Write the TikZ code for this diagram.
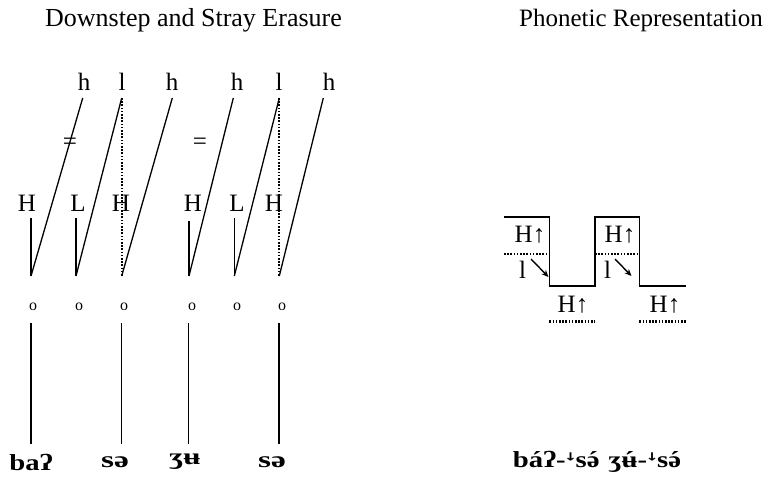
\documentclass[tikz,border=0pt]{standalone}
\usepackage{fontspec}
\setmainfont{Liberation Serif}
\newfontfamily\dvfont{DejaVu Sans}
\usetikzlibrary{arrows.meta}
\newcommand\acu[1]{\ooalign{#1\cr\hidewidth´\hidewidth\cr}}
\newcommand\dstep{{\dvfont\fontsize{20}{24}\selectfont ꜜ}}
\begin{document}
\begin{tikzpicture}[x=1pt,y=-1pt,
  ttl/.style={inner sep=0pt, font=\fontsize{25}{29}\selectfont},
  lbl/.style={inner sep=0pt, font=\fontsize{25}{29}\selectfont},
  sml/.style={inner sep=0pt, font=\fontsize{16}{18}\selectfont},
  word/.style={inner sep=0pt, font=\fontsize{23}{27}\selectfont\bfseries},
  ln/.style={line width=1.3pt},
  dotln/.style={line width=2.2pt, dash pattern=on 1.6pt off 1.6pt},
  arr/.style={line width=1.4pt, -{Stealth[length=7pt,width=6pt]}}
]
\useasboundingbox (0,0) rectangle (766,477);
% titles
\node[ttl, font=\fontsize{26}{30}\selectfont] (t1) at (193.5,20) {Downstep and Stray Erasure};
\node[ttl, anchor=east] (t2) at (763,20) {Phonetic Representation};
% top tier
\node[lbl] (h1) at (84,82) {h};
\node[lbl] (l1) at (122,82) {l};
\node[lbl] (h2) at (172,82) {h};
\node[lbl] (h3) at (237,82) {h};
\node[lbl] (l2) at (279,82) {l};
\node[lbl] (h4) at (329,82) {h};
\coordinate (a1) at (82.7,98);
\coordinate (a2) at (121.7,98);
\coordinate (a3) at (172.3,98);
\coordinate (a4) at (233.3,98);
\coordinate (a5) at (279.3,98);
\coordinate (a6) at (323.3,98);
% lower tier
\node[lbl] (H1) at (27,203) {H};
\node[lbl] (L1) at (78,203) {L};
\node[lbl] (H2) at (121,203) {H};
\node[lbl] (H3) at (193,203) {H};
\node[lbl] (L2) at (237,203) {L};
\node[lbl] (H4) at (274,203) {H};
\coordinate (b1) at (31,276);
\coordinate (b2) at (76,276);
\coordinate (b3) at (121.7,276);
\coordinate (b4) at (189,276);
\coordinate (b5) at (234.3,276);
\coordinate (b6) at (279.3,276);
\coordinate (c1) at (31,218);
\coordinate (c2) at (76,218);
\coordinate (c4) at (189,221);
\coordinate (c5) at (234.3,218);
% equal signs
\node[lbl] (ne) at (70,143.5) {=};
\node[lbl] (eq) at (200,143.5) {=};
% association lines
\draw[ln] (a1) -- (b1);
\draw[ln] (a2) -- (b2);
\draw[ln] (a3) -- (b3);
\draw[ln] (a4) -- (b4);
\draw[ln] (a5) -- (b5);
\draw[ln] (a6) -- (b6);
\draw[dotln] (a2) -- (b3);
\draw[dotln] (a5) -- (b6);
\draw[ln] (c1) -- (b1);
\draw[ln] (c2) -- (b2);
\draw[ln] (c4) -- (b4);
\draw[ln] (c5) -- (b5);
% syllables
\node[sml] (o1) at (33,307) {o};
\node[sml] (o2) at (79,307) {o};
\node[sml] (o3) at (124,307) {o};
\node[sml] (o4) at (192,307) {o};
\node[sml] (o5) at (237,307) {o};
\node[sml] (o6) at (282,307) {o};
% words
\node[word] (w1) at (31,462) {\scalebox{1.25}[1]{baʔ}};
\node[word] (w2) at (115,462) {\scalebox{1.45}[1]{sə}};
\node[word] (w3) at (185,462) {\scalebox{1.35}[1]{ʒʉ}};
\node[word] (w4) at (272,462) {\scalebox{1.45}[1]{sə}};
\coordinate (d1) at (31,323);
\coordinate (d2) at (121.5,323);
\coordinate (d3) at (188.5,323);
\coordinate (d4) at (279,323);
\coordinate (e1) at (31,444);
\coordinate (e2) at (121.5,444);
\coordinate (e3) at (188.5,444);
\coordinate (e4) at (279,444);
\draw[ln] (d1) -- (e1);
\draw[ln] (d2) -- (e2);
\draw[ln] (d3) -- (e3);
\draw[ln] (d4) -- (e4);
% phonetic representation
\coordinate (p1) at (504,217);
\coordinate (p2) at (549.3,217);
\coordinate (p3) at (549.3,286);
\coordinate (p4) at (595,286);
\coordinate (p5) at (595,217);
\coordinate (p6) at (639.3,217);
\coordinate (p7) at (639.3,286);
\coordinate (p8) at (685.7,286);
\draw[ln] (p1) -- (p2) -- (p3) -- (p4) -- (p5) -- (p6) -- (p7) -- (p8);
\coordinate (q1) at (504,254);
\coordinate (q2) at (549.3,254);
\coordinate (q3) at (595,254);
\coordinate (q4) at (639.3,254);
\draw[dotln] (q1) -- (q2);
\draw[dotln] (q3) -- (q4);
\coordinate (r1) at (549.3,321.5);
\coordinate (r2) at (595,321.5);
\coordinate (r3) at (639.3,321.5);
\coordinate (r4) at (685.7,321.5);
\draw[dotln] (r1) -- (r2);
\draw[dotln] (r3) -- (r4);
\node[lbl] (P1) at (530,235) {H↑};
\node[lbl] (P2) at (620,235) {H↑};
\node[lbl] (P3) at (573,305) {H↑};
\node[lbl] (P4) at (665,305) {H↑};
\node[lbl] (pl1) at (522.5,270) {l};
\node[lbl] (pl2) at (607.5,270) {l};
\coordinate (s1) at (531,259);
\coordinate (s2) at (548.5,277);
\coordinate (s3) at (615,259);
\coordinate (s4) at (631.5,276);
\draw[arr] (s1) -- (s2);
\draw[arr] (s3) -- (s4);
\node[word] (pw) at (597,462) {\scalebox{1.25}[1]{báʔ-\dstep s\acu{ə}\hspace{7pt}ʒ\acu{ʉ}-\dstep s\acu{ə}}};
\end{tikzpicture}
\end{document}
